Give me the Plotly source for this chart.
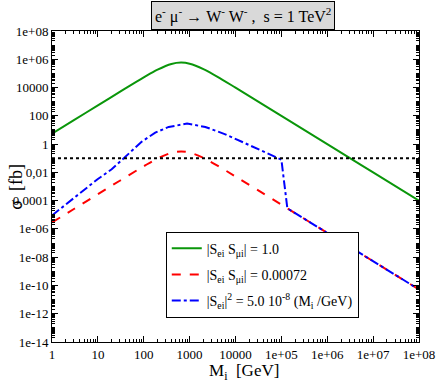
import plotly.graph_objects as go

# heavy neutrino mass M_i [GeV]
mass_green = [1, 3, 10, 30, 100, 200, 400, 650, 1000, 2000, 5000, 1e4, 1e5, 1e6, 1e7, 1e8]
sigma_green = [5.5, 49.5, 550, 4.94e3, 5.25e4, 1.84e5, 4.64e5, 5.81e5, 4.87e5,
               2.02e5, 3.82e4, 9.8e3, 100, 1.0, 0.01, 1e-4]

mass_red = [1, 3, 10, 30, 100, 200, 400, 650, 1000, 2000, 5000, 1e4, 1e5, 1e6, 1e7, 1e8]
sigma_red = [2.85e-6, 2.56e-5, 2.85e-4, 2.56e-3, 0.0272, 0.0953, 0.24, 0.30, 0.252,
             0.105, 0.0198, 5.1e-3, 5.2e-5, 5.2e-7, 5.2e-9, 5.2e-11]

mass_blue = [1, 3, 10, 20, 35, 60, 91, 178, 350, 880, 2200, 6000, 1.05e4, 3e4, 1e5,
             1.35e5, 1e6, 1e7, 1e8]
sigma_blue = [9e-6, 1.6e-4, 3.4e-3, 0.0165, 0.085, 0.45, 1.5, 6.4, 16.3, 28, 16.3, 4.9,
              2.2, 0.47, 0.08, 2.84e-5, 5.2e-7, 5.2e-9, 5.2e-11]

mass_limit = [1, 1e8]
sigma_limit = [0.1, 0.1]

x_ticks = [1, 10, 100, 1000, 1e4, 1e5, 1e6, 1e7, 1e8]
x_labels = ["1", "10", "100", "1000", "10000", "1e+05", "1e+06", "1e+07", "1e+08"]
y_ticks = [1e8, 1e6, 1e4, 100, 1, 0.01, 1e-4, 1e-6, 1e-8, 1e-10, 1e-12, 1e-14]
y_labels = ["1e+08", "1e+06", "10000", "100", "1", "0,01", "0,0001", "1e-06",
            "1e-08", "1e-10", "1e-12", "1e-14"]

FONT = "Liberation Serif"

x_minor = [k * 10 ** n for n in range(0, 8) for k in range(1, 10)] + [1e8]
y_minor = [k * 10.0 ** n for n in range(-14, 8) for k in range(1, 10)] + [1e8]

fig = go.Figure()

fig.add_trace(go.Scatter(
    x=mass_green, y=sigma_green, mode="lines", line_shape="spline",
    line=dict(color="#0a960a", width=2), legendgroup="g",
    name="|S<sub>ei</sub> S<sub>μi</sub>| = 1.0",
))
fig.add_trace(go.Scatter(
    x=mass_red, y=sigma_red, mode="lines", line_shape="spline",
    line=dict(color="#ff0000", width=2, dash="dash"), legendgroup="r",
    name="|S<sub>ei</sub> S<sub>μi</sub>| = 0.00072",
))
fig.add_trace(go.Scatter(
    x=mass_blue, y=sigma_blue, mode="lines",
    line=dict(color="#0000ff", width=2, dash="dashdot"), legendgroup="b",
    name="|S<sub>ei</sub>|<sup>2</sup> = 5.0 10<sup>-8</sup> (M<sub>i</sub> /GeV)",
))
fig.add_trace(go.Scatter(
    x=mass_limit, y=sigma_limit, mode="lines",
    line=dict(color="black", width=2, dash="dot"),
    showlegend=False,
))

axis_common = dict(
    showline=True, linecolor="black", linewidth=1, mirror="allticks",
    ticks="inside", ticklen=6, tickcolor="black", showgrid=False, zeroline=False,
    tickfont=dict(family=FONT, size=13, color="black"), automargin=False,
)

fig.update_xaxes(
    type="log", range=[0, 8], tickvals=x_ticks, ticktext=x_labels,
    minor=dict(tickvals=x_minor, ticks="inside", ticklen=3, tickcolor="black"),
    **axis_common,
)
fig.update_yaxes(
    type="log", range=[-14, 8], tickvals=y_ticks, ticktext=y_labels,
    minor=dict(tickvals=y_minor, ticks="inside", ticklen=3, tickcolor="black"),
    **axis_common,
)

# axis titles
fig.add_annotation(
    x=0.523, y=-0.097, xref="paper", yref="paper", xanchor="center", yanchor="middle",
    text="M<sub>i</sub>  [GeV]", showarrow=False,
    font=dict(family=FONT, size=17, color="black"),
)
fig.add_annotation(
    x=-0.10, y=0.5, xref="paper", yref="paper", xanchor="center", yanchor="middle",
    text="σ  [fb]", textangle=-90, showarrow=False,
    font=dict(family=FONT, size=18, color="black"),
)

fig.add_annotation(
    x=0.52, y=1.096, xref="paper", yref="paper", xanchor="center", yanchor="top",
    text="e<sup>-</sup> μ<sup>-</sup> → W<sup>-</sup> W<sup>-</sup> ,  s = 1 TeV<sup>2</sup>",
    showarrow=False, font=dict(family=FONT, size=16, color="black"),
    bgcolor="#d9d9d9", bordercolor="black", borderwidth=1, borderpad=3,
)

fig.update_layout(
    width=436, height=382,
    margin=dict(l=52, r=17, t=31, b=40),
    paper_bgcolor="white", plot_bgcolor="white",
    font=dict(family=FONT, color="black"),
    legend=dict(
        x=0.31, y=0.355, xanchor="left", yanchor="top",
        bgcolor="white", bordercolor="black", borderwidth=1,
        font=dict(family=FONT, size=14, color="black"),
        tracegroupgap=5, itemwidth=30,
    ),
)

fig.write_html("out.html", config={"displayModeBar": False},
               post_script="document.body.style.margin='0';")
